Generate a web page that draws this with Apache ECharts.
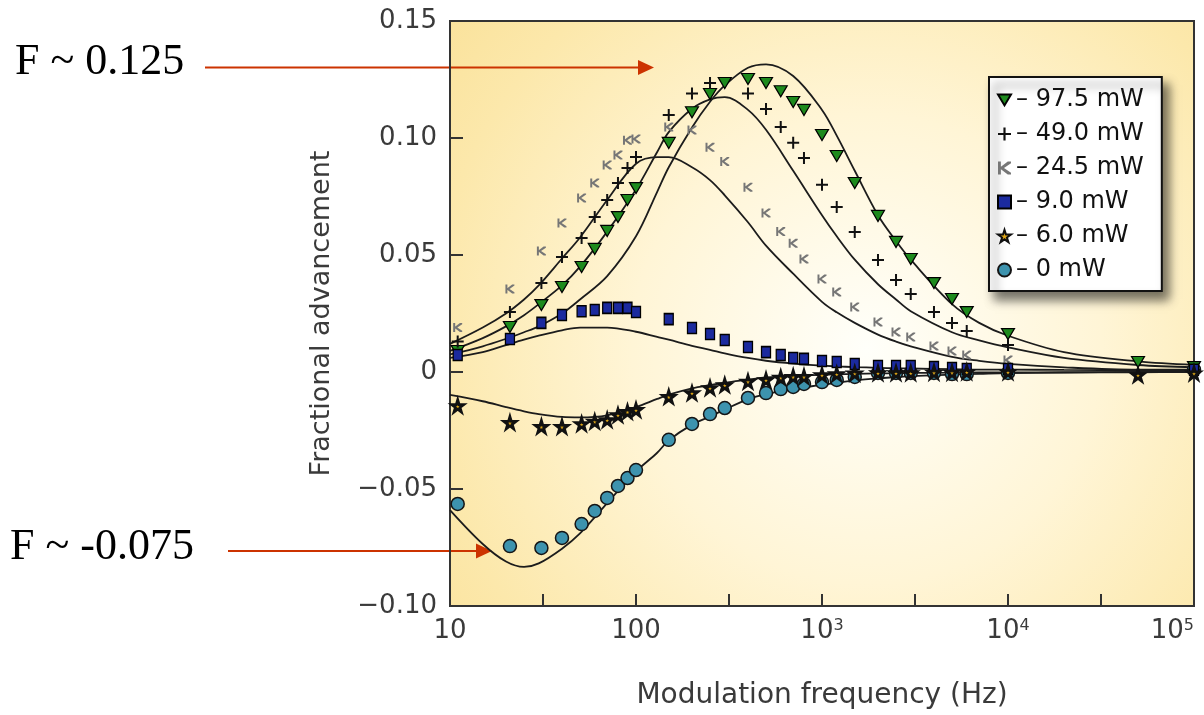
<!DOCTYPE html>
<html><head><meta charset="utf-8">
<script src="https://cdn.jsdelivr.net/npm/echarts@6/dist/echarts.min.js"></script>
<style>html,body{margin:0;padding:0;background:#fff}#c{width:1204px;height:715px}</style>
</head><body><div id="c"></div>
<script>
// ---------- data ----------
const seriesNames = ['97.5 mW', '49.0 mW', '24.5 mW', '9.0 mW', '6.0 mW', '0 mW'];

// measured points (Hz)
const freq = [11, 21, 31, 40, 51, 60, 70, 80, 90, 100, 150, 200, 250, 300, 400, 500, 600, 700, 800, 1000, 1200, 1500, 2000, 2500, 3000, 4000, 5000, 6000, 10000, 50000, 100000];
const adv97_5 = [0.009, 0.0192, 0.0286, 0.0363, 0.0449, 0.0526, 0.0603, 0.0662, 0.0735, 0.0786, 0.0979, 0.111, 0.1188, 0.1235, 0.1252, 0.1235, 0.120, 0.1154, 0.112, 0.1013, 0.0923, 0.0808, 0.0667, 0.0556, 0.0483, 0.038, 0.0312, 0.0256, 0.0162, 0.0043, 0.0021];
const adv49 = [0.013, 0.0256, 0.038, 0.0491, 0.0573, 0.0662, 0.0735, 0.0808, 0.0872, 0.0919, 0.1098, 0.119, 0.1235, null, 0.119, 0.1124, 0.1047, 0.098, 0.0915, 0.080, 0.0705, 0.0598, 0.0479, 0.0393, 0.0333, 0.0256, 0.0209, 0.0175, 0.0115, null, 0.001];
const adv24_5 = [0.019, 0.0355, 0.0517, 0.0637, 0.0744, 0.0808, 0.0885, 0.0927, 0.099, 0.0996, 0.1047, 0.1034, 0.096, 0.090, 0.079, 0.068, 0.060, 0.055, 0.0483, 0.0397, 0.0342, 0.0278, 0.0214, 0.0171, 0.015, 0.0111, 0.009, 0.0073, 0.0051, null, 0.001];
const adv9 = [0.0073, 0.0141, 0.021, 0.0244, 0.026, 0.0265, 0.0274, 0.0274, 0.0274, 0.0256, 0.0226, 0.0188, 0.0162, 0.0137, 0.0107, 0.0085, 0.0073, 0.006, 0.0056, 0.0047, 0.0043, 0.0034, 0.0026, 0.0026, 0.0026, 0.0021, 0.0017, 0.0013, 0.0013, null, 0.001];
const adv6 = [-0.0145, -0.0217, -0.0234, -0.0234, -0.0222, -0.0212, -0.0205, -0.0184, -0.017, -0.0162, -0.0106, -0.009, -0.0068, -0.0056, -0.0041, -0.0034, -0.0024, -0.002, -0.002, -0.0013, -0.0009, -0.0006, -0.0004, -0.0004, -0.0004, -0.0002, -0.0002, 0.0, 0.0, -0.0013, -0.0005];
const adv0 = [-0.0564, -0.0744, -0.0752, -0.0709, -0.065, -0.0594, -0.0538, -0.0487, -0.0453, -0.0419, -0.029, -0.0222, -0.018, -0.0154, -0.0111, -0.009, -0.0073, -0.0064, -0.0051, -0.0043, -0.0034, -0.0021, -0.0004, -0.0004, -0.0004, -0.0004, -0.0009, -0.0009, -0.0004, null, 0.001];

// fitted curves (Hz)
const fitFreq = [10, 15, 20, 25, 30, 40, 50, 70, 100, 130, 150, 200, 250, 300, 400, 500, 700, 1000, 1200, 1500, 2000, 2500, 3000, 5000, 7000, 10000, 20000, 50000, 100000];
const fit97_5 = [0.0075, 0.011, 0.0142, 0.017, 0.0195, 0.025, 0.031, 0.041, 0.058, 0.077, 0.0875, 0.1045, 0.1155, 0.1225, 0.130, 0.1315, 0.1265, 0.112, 0.101, 0.086, 0.067, 0.056, 0.048, 0.029, 0.021, 0.0155, 0.0085, 0.0045, 0.003];
const fit49 = [0.009, 0.0145, 0.0195, 0.0243, 0.029, 0.037, 0.045, 0.060, 0.078, 0.094, 0.1025, 0.1125, 0.1165, 0.1175, 0.112, 0.1035, 0.086, 0.067, 0.058, 0.048, 0.0375, 0.031, 0.026, 0.017, 0.0135, 0.0105, 0.006, 0.003, 0.002];
const fit24_5 = [0.012, 0.019, 0.025, 0.031, 0.037, 0.0485, 0.0575, 0.0735, 0.089, 0.0918, 0.0918, 0.0875, 0.082, 0.0755, 0.064, 0.054, 0.042, 0.030, 0.0255, 0.021, 0.016, 0.013, 0.011, 0.0065, 0.0048, 0.0035, 0.002, 0.001, 0.001];
const fit9 = [0.006, 0.0085, 0.0115, 0.0138, 0.0155, 0.0178, 0.019, 0.019, 0.0172, 0.015, 0.0138, 0.0112, 0.0095, 0.008, 0.006, 0.0048, 0.0036, 0.0027, 0.0024, 0.0021, 0.0018, 0.0016, 0.0015, 0.0012, 0.001, 0.001, 0.0009, 0.0008, 0.0008];
const fit6 = [-0.0098, -0.0125, -0.015, -0.0168, -0.018, -0.0192, -0.0194, -0.0185, -0.015, -0.0115, -0.0097, -0.007, -0.0056, -0.0046, -0.0033, -0.0023, -0.0016, -0.0012, -0.001, -0.0008, -0.0006, -0.0005, -0.0004, -0.0003, -0.0002, -0.0002, -0.0001, 0, 0];
const fit0 = [-0.059, -0.0735, -0.081, -0.0833, -0.0818, -0.0755, -0.069, -0.056, -0.0425, -0.0345, -0.0292, -0.0225, -0.019, -0.016, -0.0117, -0.0095, -0.0072, -0.0055, -0.0046, -0.0036, -0.0027, -0.0022, -0.0018, -0.0011, -0.0008, -0.0005, -0.0003, -0.0001, 0];

// tick labels
const xTickValues = [10, 100, 1000, 10000, 100000];
const xTickLabels = ['10', '100', '10{sup|3}', '10{sup|4}', '10{sup|5}'];
const yTickValues = [-0.10, -0.05, 0, 0.05, 0.10, 0.15];
const yTickLabels = ['−0.10', '−0.05', '0', '0.05', '0.10', '0.15'];

// ---------- build ----------
const pts = (fs, vs) => fs.map((f, i) => [f, vs[i]]).filter(p => p[1] !== null);
const FONT = '"DejaVu Sans", sans-serif';
const INK = '#3a3a3a';

const markerDefs = [
  { data: adv97_5, symbol: 'path://M0,0 L12,0 L6,10 Z', size: [13, 11], color: '#1d8a1d', border: '#000', bw: 1.2 },
  { data: adv49, symbol: 'path://M5,0h2v12h-2z M0,5h12v2h-12z', size: 12, color: '#111', border: null, bw: 0 },
  { data: adv24_5, symbol: 'path://M0,0h2.2v10h-2.2z M2,4.2 L7.5,0 L10,0 L10,1.3 L4.6,5 L10,8.7 L10,10 L7.5,10 L2,5.8z', size: 9, color: '#767676', border: null, bw: 0 },
  { data: adv9, symbol: 'rect', size: [9, 11], color: '#1b2a9e', border: '#000', bw: 1.4 },
  { data: adv6, symbol: 'path://M50,0 L61,35 L98,35 L68,57 L79,91 L50,70 L21,91 L32,57 L2,35 L39,35 Z', size: 12, color: '#e0a818', border: '#111', bw: 2.8 },
  { data: adv0, symbol: 'circle', size: 13, color: '#3d93ae', border: '#151515', bw: 1.5 }
];
const fits = [fit97_5, fit49, fit24_5, fit9, fit6, fit0];

const series = [];
fits.forEach((f, i) => {
  series.push({
    name: 'fit ' + seriesNames[i], type: 'line', xAxisIndex: 0, data: pts(fitFreq, f),
    smooth: 0.35, showSymbol: false, silent: true, z: 2,
    lineStyle: { color: '#1c1c1c', width: 1.8 }
  });
});
markerDefs.forEach((m, i) => {
  series.push({
    name: seriesNames[i], type: 'scatter', xAxisIndex: 0, data: pts(freq, m.data),
    symbol: m.symbol, symbolSize: m.size, z: 3 + (i === 5 ? 0 : 1),
    itemStyle: { color: m.color, borderColor: m.border || m.color, borderWidth: m.bw, opacity: 1 }
  });
});

const chart = echarts.init(document.getElementById('c'), null, { renderer: 'canvas' });
chart.setOption({
  animation: false,
  backgroundColor: '#ffffff',
  grid: {
    left: 450, right: 10, top: 21, bottom: 109, show: true, outerBoundsMode: 'none', containLabel: false,
    borderColor: '#333', borderWidth: 2,
    backgroundColor: new echarts.graphic.RadialGradient(0.56, 0.56, 1.0, [
      { offset: 0, color: '#fffffa' },
      { offset: 0.4, color: '#fff5d6' },
      { offset: 0.75, color: '#fce8ab' },
      { offset: 1, color: '#f9df93' }
    ])
  },
  legend: {
    data: seriesNames,
    orient: 'vertical', left: 989, top: 77,
    padding: [11, 18, 9, 8], itemGap: 10, itemWidth: 13, itemHeight: 13,
    backgroundColor: '#ffffff', borderColor: '#111', borderWidth: 2, borderRadius: 0,
    shadowBlur: 10, shadowColor: 'rgba(0,0,0,0.55)', shadowOffsetX: 6, shadowOffsetY: 8,
    formatter: n => '– ' + n,
    textStyle: { fontFamily: FONT, fontSize: 24, color: '#111' },
    selectedMode: false
  },
  xAxis: [
    {
      type: 'log', logBase: 10, min: 10, max: 100000, position: 'bottom',
      axisLine: { show: true, onZero: false, lineStyle: { color: '#333', width: 2 } },
      axisTick: { show: false }, splitLine: { show: false },
      axisLabel: {
        fontFamily: FONT, fontSize: 26, color: INK, margin: 12, alignMaxLabel: 'right',
        rich: { sup: { fontFamily: FONT, fontSize: 16, color: INK, verticalAlign: 'top', padding: [0, 0, 10, 0] } },
        formatter: v => { const k = xTickValues.findIndex(t => Math.abs(Math.log10(t) - Math.log10(v)) < 1e-6); return k >= 0 ? xTickLabels[k] : ''; }
      },
      name: 'Modulation frequency (Hz)', nameLocation: 'middle', nameGap: 76,
      nameTextStyle: { fontFamily: FONT, fontSize: 28, color: INK }
    },
    {
      type: 'value', min: 1, max: 5, interval: 0.5, position: 'bottom',
      axisLine: { show: false, onZero: false }, axisLabel: { show: false }, splitLine: { show: false },
      axisTick: { show: true, inside: true, length: 12, lineStyle: { color: '#333', width: 2 } }
    }
  ],
  yAxis: {
    type: 'value', min: -0.10, max: 0.15, interval: 0.05,
    axisLine: { show: true, onZero: false, lineStyle: { color: '#333', width: 2 } },
    axisTick: { show: true, inside: true, length: 13, lineStyle: { color: '#333', width: 2 } },
    splitLine: { show: false },
    axisLabel: {
      fontFamily: FONT, fontSize: 26, color: INK, margin: 13,
      formatter: v => { const k = yTickValues.findIndex(t => Math.abs(t - v) < 1e-9); return k >= 0 ? yTickLabels[k] : ''; }
    },
    name: 'Fractional advancement', nameLocation: 'middle', nameGap: 115,
    nameTextStyle: { fontFamily: FONT, fontSize: 27, color: INK }
  },
  graphic: [
    { type: 'text', x: 15, y: 62, style: { text: 'F ~ 0.125', font: '44px "Liberation Serif", "Times New Roman", serif', fill: '#000', verticalAlign: 'middle' } },
    { type: 'line', shape: { x1: 205, y1: 67.5, x2: 640, y2: 67.5 }, style: { stroke: '#cc3300', lineWidth: 2 } },
    { type: 'polygon', shape: { points: [[638, 60], [654, 67.5], [638, 75]] }, style: { fill: '#cc3300' } },
    { type: 'text', x: 10, y: 547, style: { text: 'F ~ -0.075', font: '44px "Liberation Serif", "Times New Roman", serif', fill: '#000', verticalAlign: 'middle' } },
    { type: 'line', shape: { x1: 228, y1: 551, x2: 478, y2: 551 }, style: { stroke: '#cc3300', lineWidth: 2 } },
    { type: 'polygon', shape: { points: [[476, 543.5], [492, 551], [476, 558.5]] }, style: { fill: '#cc3300' } }
  ],
  series: series
});
</script>
</body></html>
